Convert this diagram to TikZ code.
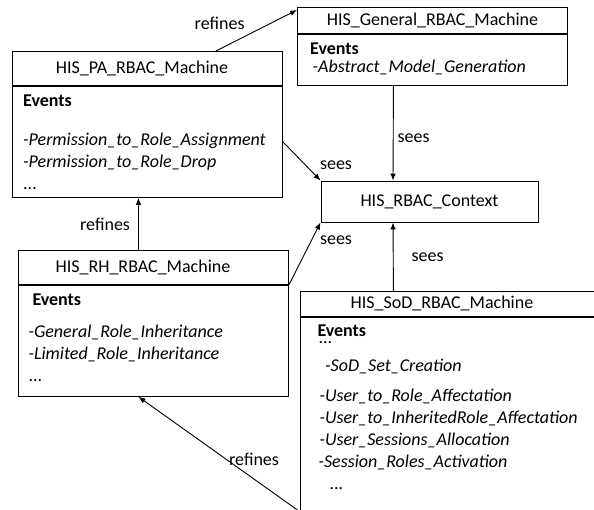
\documentclass[tikz,border=0pt]{standalone}
\usepackage{fontspec}
\setmainfont{Carlito}
\usetikzlibrary{arrows.meta}

\begin{document}
\begin{tikzpicture}[x=1pt,y=1pt]
            \tikzstyle{every node}+=[inner sep=0pt, font=\fontsize{18}{22}\selectfont]
            \tikzstyle{head}=[draw, line width=0.9pt, anchor=north west, minimum width=270pt, minimum height=34pt]
            \tikzstyle{body}=[draw, line width=0.9pt, anchor=north west, minimum width=270pt]
            \tikzstyle{events}=[anchor=north west, align=left]
            \tikzstyle{link}=[line width=0.9pt, -{Latex[length=7pt,width=5.5pt]}]
            \useasboundingbox (0,0) rectangle (594,-509);
            \clip (0,0) rectangle (594,-509);
            % machines and context
            \node [head] (pa) at (12,-51) {HIS\_PA\_RBAC\_Machine\hspace*{11pt}};
            \node [body, minimum height=111pt] (pa-ev) at (pa.south west) {};
            \node [events] (pa-txt) at ([shift={(11pt,-9pt)}]pa-ev.north west) {\textbf{Events}\\[17pt]\textit{-Permission\_to\_Role\_Assignment}\\\textit{-Permission\_to\_Role\_Drop}\\...};
            \node [head, minimum height=26pt] (gen) at (297,-7) {HIS\_General\_RBAC\_Machine};
            \node [body, minimum height=51pt] (gen-ev) at (gen.south west) {};
            \node [events] (gen-txt) at ([shift={(13pt,-8.7pt)}]gen-ev.north west) {\textbf{Events}\\[-3.6pt]\hspace*{2.5pt}\textit{-Abstract\_Model\_Generation}};
            \node [draw, line width=0.9pt, minimum width=217pt, minimum height=41pt] (ctx) at (429.5,-201.5) {HIS\_RBAC\_Context};
            \node [head] (rh) at (18,-250) {HIS\_RH\_RBAC\_Machine\hspace*{21pt}};
            \node [body, minimum height=111pt] (rh-ev) at (rh.south west) {};
            \node [events] (rh-txt) at ([shift={(10.3pt,-8.7pt)}]rh-ev.north west) {\hspace*{4pt}\textbf{Events}\\[9.7pt]\textit{-General\_Role\_Inheritance}\\\textit{-Limited\_Role\_Inheritance}\\...};
            \node [head, minimum width=300pt, minimum height=25pt] (sod) at (300,-291) {HIS\_SoD\_RBAC\_Machine\hspace*{17pt}};
            \node [body, minimum width=300pt, minimum height=196pt] (sod-ev) at (sod.south west) {};
            \node [events] (sod-txt) at ([shift={(17.3pt,-8pt)}]sod-ev.north west) {\textbf{Events}\\[-15pt]\hspace*{1pt}...\\[6pt]\hspace*{7.7pt}\textit{-SoD\_Set\_Creation}\\[8pt]\hspace*{2pt}\textit{-User\_to\_Role\_Affectation}\\\hspace*{2pt}\textit{-User\_to\_InheritedRole\_Affectation}\\\hspace*{2pt}\textit{-User\_Sessions\_Allocation}\\\hspace*{1pt}\textit{-Session\_Roles\_Activation}\\\hspace*{12pt}...};
            % refines and sees links
            \draw [link] ([xshift=-67pt]pa.north east) -- node [pos=0.667, left=25pt] {refines} ([yshift=-3pt]gen.north west);
            \draw [link] ([xshift=-39pt]gen-ev.south) -- node [pos=0.55, right=4pt] {sees} ([xshift=-36.5pt]ctx.north);
            \draw [link] (pa-ev.east) -- node [at end, anchor=south west, xshift=-1pt, yshift=10.7pt] {sees} (ctx.north west);
            \draw [link] ([xshift=-15pt]rh.north) -- node [midway, left=8pt] {refines} ([xshift=-9pt]pa-ev.south);
            \draw [link] (rh.south east) -- node [at end, anchor=north west, xshift=-1pt, yshift=-12.7pt] {sees} (ctx.south west);
            \draw [link] ([xshift=-57pt]sod.north) -- node [midway, right=18pt] {sees} ([xshift=-36.5pt]ctx.south);
            \draw [link] ([yshift=2pt]sod-ev.south west) -- node [pos=0.46, right=3pt] {refines} ([xshift=-15pt]rh-ev.south);
        \end{tikzpicture}
\end{document}
